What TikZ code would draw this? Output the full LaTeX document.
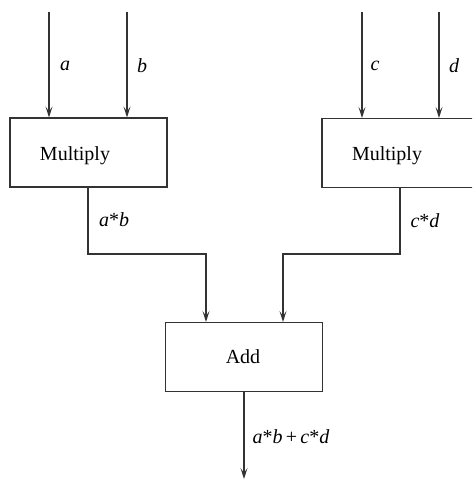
\documentclass[tikz,border=0pt]{standalone}
\usepackage{fontspec}
\setmainfont{Liberation Serif}
\usetikzlibrary{arrows.meta}
\begin{document}
\begin{tikzpicture}[x=1pt,y=-1pt,
  line width=1.1pt, draw=black!80,
  opbox/.style={draw=black!80, rectangle, minimum width=157pt, minimum height=69pt, inner sep=0pt},
  optext/.style={font=\fontsize{20}{24}\selectfont, inner sep=0pt},
  sig/.style={font=\fontsize{20}{24}\selectfont\itshape, inner sep=0pt},
  flow/.style={-{Stealth[length=11pt,width=7pt,inset=5pt]}, draw=black!80, line width=1.1pt}]
\useasboundingbox (0,0) rectangle (472,479);
\clip (0,0) rectangle (472,479);

% operator boxes
\node[opbox] (m1) at (88.5,152.5) {};
\node[opbox] (m2) at (400.5,153) {};
\node[opbox] (add) at (244,357) {};
\node[optext] (m1t) at (75,156) {Multiply};
\node[optext] (m2t) at (387,156) {Multiply};
\node[optext] (addt) at (243,357) {Add};

% free ends of the input and output lines
\coordinate (ina) at (49,12);
\coordinate (inb) at (127,12);
\coordinate (inc) at (362,12);
\coordinate (ind) at (439,12);
\coordinate (out) at (244,479);

% inputs
\draw[flow] (ina) -- (ina |- m1.north);
\draw[flow] (inb) -- (inb |- m1.north);
\draw[flow] (inc) -- (inc |- m2.north);
\draw[flow] (ind) -- (ind |- m2.north);
\node[sig] (la) at (65,66) {a};
\node[sig] (lb) at (142,66) {b};
\node[sig] (lc) at (375,66) {c};
\node[sig] (ld) at (454,66) {d};

% products into the adder
\draw[flow] (88,0 |- m1.south) -- (88,254) -- (206,254) -- (206,0 |- add.north);
\draw[flow] (400,0 |- m2.south) -- (400,254) -- (283,254) -- (283,0 |- add.north);
\node[sig] (lab) at (114,220) {a\textup{*}b};
\node[sig] (lcd) at (425,221) {c\textup{*}d};

% sum
\draw[flow] (add.south) -- (out);
\node[sig, anchor=west] (lsum) at (252,437) {a\textup{*}b\,\textup{+}\,c\textup{*}d};
\end{tikzpicture}
\end{document}
